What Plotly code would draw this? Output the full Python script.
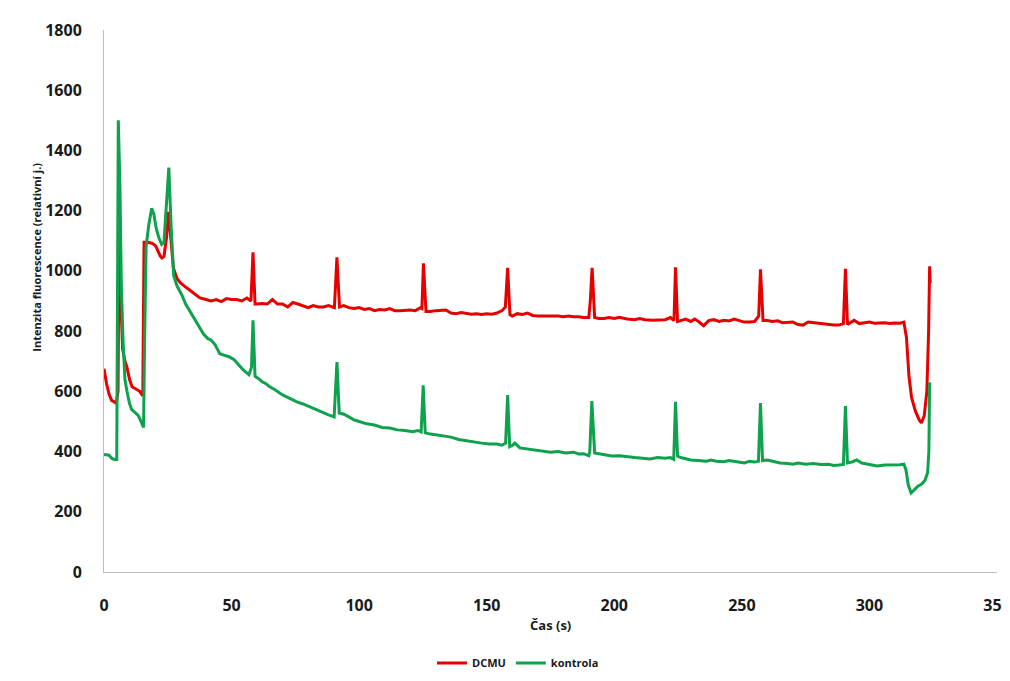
import plotly.graph_objects as go

# DCMU series (time s, fluorescence)
dcmu_t = [0, 1, 2, 3, 4, 4.8, 5.5, 6.0, 6.6, 7.3, 8.2, 9, 10, 11, 12, 13, 14, 15.2, 15.7, 17, 18.8, 20, 20.7, 22, 22.7, 23.5, 24.5, 25.3, 26.3, 27.2, 28.6, 30, 32.5, 35, 37.6, 40, 42, 44, 46, 48, 50, 52, 54, 56, 57.6, 58.4, 59.2, 60, 62, 64, 66, 68, 70, 72, 74, 76, 78, 80, 82, 84, 86, 88, 90.3, 91.3, 92.3, 94, 96, 98, 100, 102, 104, 106, 108, 110, 112, 114, 116, 118, 120, 122, 124, 124.6, 125.2, 126.2, 128, 130, 132, 134, 136, 138, 140, 142, 144, 146, 148, 150, 152, 154, 156, 157.3, 158.2, 159.1, 160, 162, 164, 166, 168, 170, 172, 175, 178, 180, 182, 184, 186, 188, 190, 190.6, 191.3, 192.3, 194, 196, 198, 200, 202, 205, 208, 210, 212, 215, 218, 220, 222, 223.4, 224, 224.8, 226, 228, 230, 231.5, 233, 235, 237, 239, 241, 243, 245, 247, 249, 251, 253, 255, 256.6, 257.3, 258.3, 260, 262, 264, 266, 268, 270, 272, 274, 276, 278, 280, 282, 284, 286, 288, 289.8, 290.6, 291.4, 292.5, 294, 296, 298, 300, 302, 304, 306, 308, 310, 312, 313.5, 314.5, 315.5, 316.5, 318, 319.5, 320.4, 321.5, 322.5, 323.2, 323.6, 323.8]
dcmu_v = [675, 625, 590, 570, 565, 560, 600, 1280, 900, 740, 700, 680, 640, 615, 610, 605, 600, 585, 1095, 1095, 1092, 1085, 1075, 1050, 1043, 1048, 1110, 1196, 1110, 1010, 975, 960, 943, 928, 910, 905, 900, 905, 898, 908, 905, 905, 900, 910, 900, 1062, 890, 890, 892, 890, 905, 890, 890, 880, 895, 890, 885, 878, 885, 880, 880, 885, 878, 1045, 880, 885, 878, 875, 878, 872, 875, 868, 872, 870, 875, 868, 868, 870, 870, 868, 878, 875, 1025, 865, 865, 868, 868, 870, 860, 858, 862, 860, 856, 858, 855, 858, 856, 860, 868, 880, 1010, 855, 850, 858, 855, 860, 852, 850, 850, 852, 850, 848, 850, 848, 848, 845, 845, 900, 1010, 845, 842, 842, 845, 842, 846, 840, 838, 842, 838, 836, 836, 838, 845, 835, 1012, 832, 835, 840, 832, 840, 832, 818, 835, 838, 832, 836, 834, 840, 835, 830, 830, 832, 850, 1005, 835, 835, 832, 834, 828, 830, 830, 822, 820, 830, 828, 825, 822, 820, 820, 820, 825, 1007, 822, 828, 836, 825, 828, 830, 826, 828, 828, 825, 827, 826, 830, 780, 650, 580, 535, 505, 495, 520, 600, 800, 1015, 960]

# kontrola series
kontrola_t = [0, 1, 2, 3, 4, 5, 5.6, 6.2, 6.8, 7.5, 8.2, 9, 10, 10.8, 12, 13.4, 14.5, 15.5, 15.9, 16.5, 17.5, 18.7, 19.5, 20.5, 21.5, 22.6, 23.5, 24.5, 25.4, 26.3, 27.3, 28.6, 30.5, 32, 33.7, 35.5, 37.6, 39, 40.7, 42, 43.5, 45.4, 47, 49, 51, 52.5, 54.5, 56.8, 57.8, 58.4, 59.2, 60.5, 62, 63.5, 65, 67, 70, 72, 75.6, 78, 80.7, 83, 85.8, 88, 90.2, 91.3, 92.2, 94, 96, 98, 100, 103, 106, 109, 112, 115, 118, 121, 123, 124.3, 125.1, 125.9, 128, 130, 133, 136, 139, 142, 145, 148, 151, 154, 156, 157.4, 158.2, 159, 160, 161, 163, 166, 169, 172, 175, 178, 181, 184, 186, 188, 190, 190.4, 191.2, 192.3, 194, 196, 199, 202, 205, 208, 211, 214, 217, 220, 222, 223.3, 224, 224.8, 226, 228, 230, 233, 236, 238, 240, 243, 245, 248, 251, 253, 255, 256.5, 257.3, 258.1, 260, 262, 265, 268, 270, 272, 275, 278, 281, 284, 286, 288, 289.8, 290.6, 291.4, 293, 295, 297, 300, 303, 306, 309, 312, 313.5, 314.3, 315.2, 316.3, 317.5, 319, 320.5, 321.8, 322.8, 323.3, 323.6]
kontrola_v = [390, 390, 388, 378, 374, 374, 1500, 1300, 950, 760, 640, 600, 560, 540, 530, 520, 500, 480, 760, 1080, 1150, 1208, 1190, 1140, 1110, 1088, 1095, 1220, 1343, 1150, 985, 950, 920, 890, 865, 840, 810, 790, 775, 770, 755, 725, 720, 715, 705, 690, 672, 655, 680, 836, 650, 643, 632, 625, 615, 605, 588, 580, 565, 558, 548, 538, 530, 522, 515, 697, 528, 524, 515, 505, 500, 492, 488, 480, 478, 472, 470, 466, 470, 465, 620, 462, 458, 455, 450, 448, 440, 436, 430, 428, 425, 425, 421, 428, 588, 416, 420, 428, 412, 408, 405, 402, 398, 400, 395, 398, 392, 393, 386, 400, 568, 395, 392, 388, 385, 386, 382, 380, 378, 375, 380, 378, 380, 374, 565, 385, 380, 375, 372, 370, 368, 372, 368, 366, 370, 366, 362, 368, 365, 368, 561, 370, 372, 368, 362, 360, 358, 362, 358, 360, 357, 358, 354, 355, 357, 551, 362, 365, 372, 362, 358, 352, 355, 355, 356, 358, 340, 290, 263, 272, 285, 292, 305, 330, 400, 630]

x_ticks = [0, 50, 100, 150, 200, 250, 300, 350]
y_ticks = [0, 200, 400, 600, 800, 1000, 1200, 1400, 1600, 1800]

RED = "#e60000"
GREEN = "#0ea24e"
FONT = "Open Sans, sans-serif"
TXT = "#1a1a1a"

fig = go.Figure()
fig.add_trace(go.Scatter(x=dcmu_t, y=dcmu_v, mode="lines", name="DCMU",
                         line=dict(color=RED, width=3)))
fig.add_trace(go.Scatter(x=kontrola_t, y=kontrola_v, mode="lines", name="kontrola",
                         line=dict(color=GREEN, width=3)))

# page body has an 8px margin, so the figure is sized / offset to compensate
fig.update_layout(
    width=1002, height=673,
    margin=dict(l=96, r=13, t=22, b=109, autoexpand=False),
    paper_bgcolor="white", plot_bgcolor="white",
    font=dict(family=FONT, color=TXT),
    showlegend=True,
    legend=dict(orientation="h", x=0.4636, xanchor="center", y=-0.168, yanchor="middle",
                font=dict(size=11, family=FONT, weight="bold", color=TXT),
                itemwidth=30, tracegroupgap=0),
    xaxis=dict(range=[0, 350], tickvals=x_ticks, showgrid=False, zeroline=False,
               showline=True, linecolor="#bfbfbf", linewidth=1,
               ticks="", ticklabelstandoff=19, ticklabeloverflow="allow",
               tickfont=dict(size=16, family=FONT, weight="bold", color=TXT)),
    yaxis=dict(range=[0, 1800], tickvals=y_ticks, showgrid=False, zeroline=False,
               showline=True, linecolor="#bfbfbf", linewidth=1,
               ticks="", ticklabelstandoff=18,
               tickfont=dict(size=16, family=FONT, weight="bold", color=TXT)),
    annotations=[
        dict(text="Čas (s)", x=0.5, xref="paper", y=(572 - 625) / 542, yref="paper",
             showarrow=False, font=dict(size=13, family=FONT, weight="bold", color=TXT),
             xanchor="center", yanchor="middle"),
        dict(text="Intenzita fluorescence (relativní j.)", x=0, xref="paper", xshift=-67,
             y=0.58, yref="paper", textangle=-90, showarrow=False,
             font=dict(size=11, family=FONT, weight="bold", color=TXT),
             xanchor="center", yanchor="middle"),
    ],
)

fig.write_html("out.html")
